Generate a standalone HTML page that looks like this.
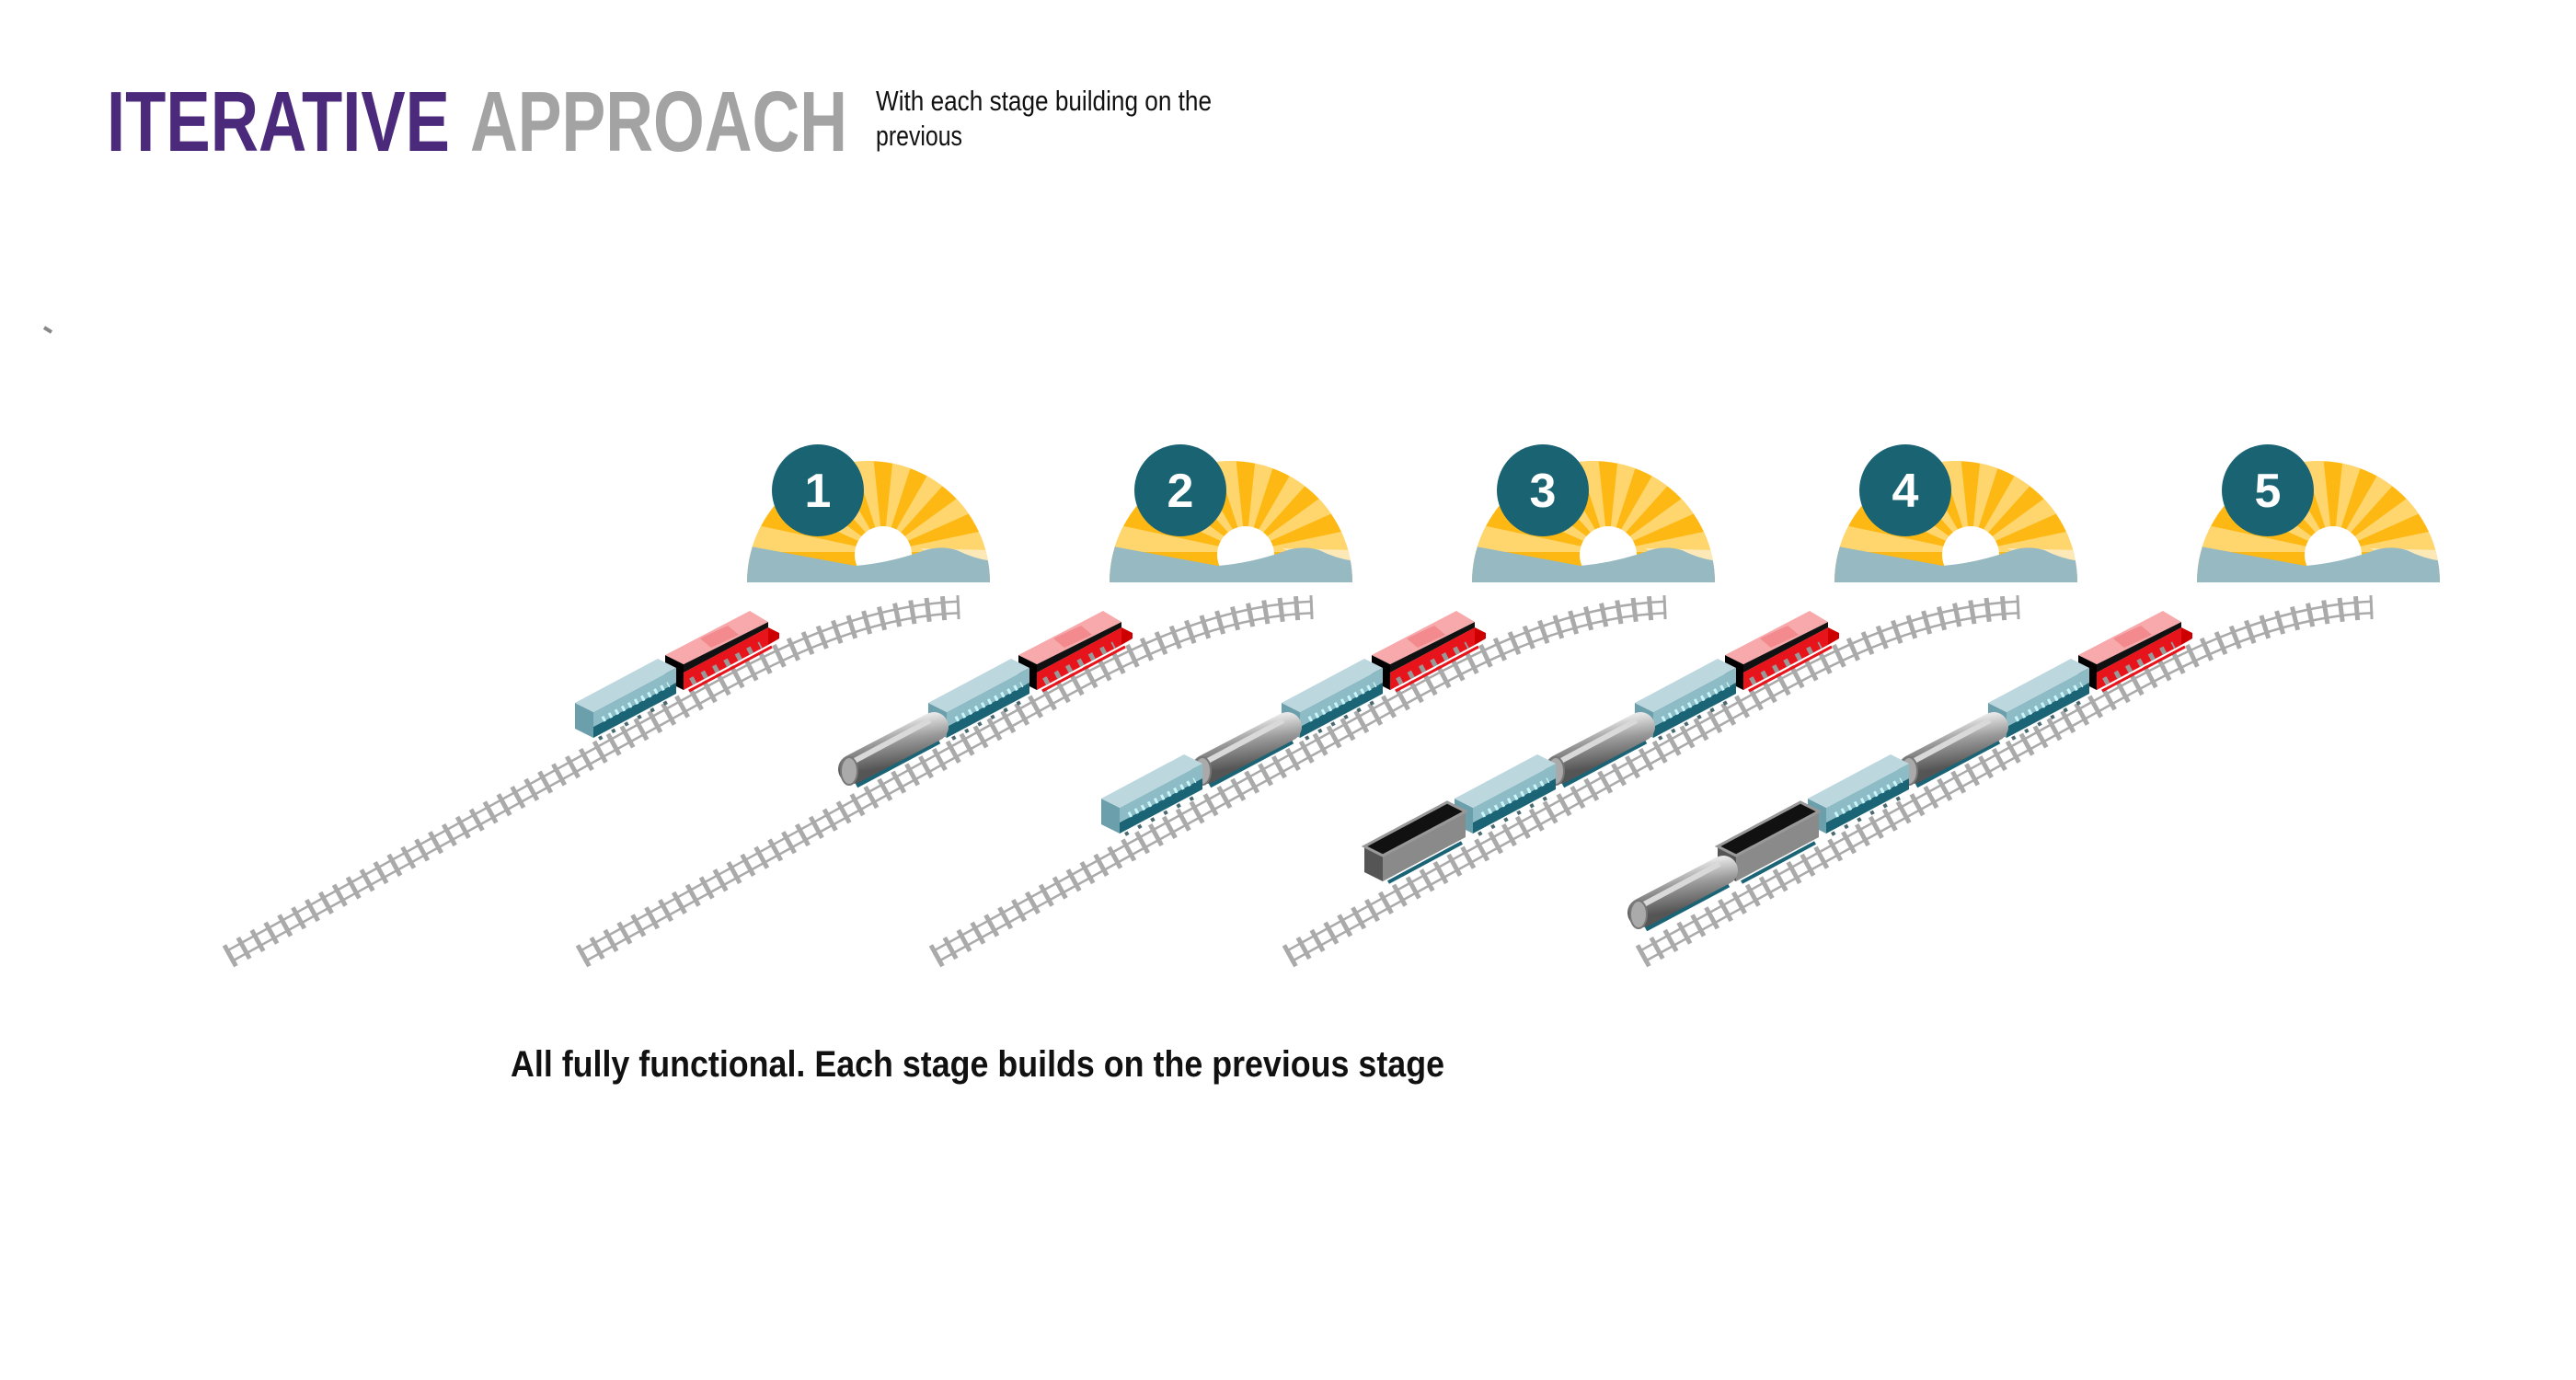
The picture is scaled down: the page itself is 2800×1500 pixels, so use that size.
<!DOCTYPE html>
<html><head><meta charset="utf-8"><style>html,body{margin:0;padding:0;background:#fff}svg{display:block}</style></head>
<body>
<svg width="2800" height="1500" viewBox="0 0 2800 1500" xmlns="http://www.w3.org/2000/svg">
<defs>
<clipPath id="semi"><path d="M812,633 A132,132 0 0 1 1076,633 Z"/></clipPath>
<linearGradient id="tank" x1="0" y1="0" x2="0.3" y2="1">
<stop offset="0" stop-color="#e6e6e6"/><stop offset="0.45" stop-color="#9a9a9a"/><stop offset="1" stop-color="#555"/></linearGradient>
<g id="sun">
<g clip-path="url(#semi)">
<rect x="800" y="490" width="300" height="150" fill="#fdb813"/>
<g fill="#ffd66e" transform="translate(960,600)">
<polygon points="0,0 -250,0 -245,-52"/>
<polygon points="0,0 -228,-102 -202,-147"/>
<polygon points="0,0 -167,-186 -125,-217"/>
<polygon points="0,0 -77,-238 -26,-249"/>
<polygon points="0,0 26,-249 77,-238"/>
<polygon points="0,0 125,-217 167,-186"/>
<polygon points="0,0 202,-147 228,-102"/>
<polygon points="0,0 245,-52 250,0"/>
</g>
<circle cx="960" cy="603" r="31" fill="#fff"/>
<polygon points="1000,596 1076,598 1076,612 1030,612" fill="#fde9b8"/>
<path d="M805,592 L930,615 Q965,612 1000,600 Q1020,592 1040,598 Q1060,608 1080,610 L1080,640 L805,640 Z" fill="#97b9c1"/>
</g>
</g>
<g id="track" fill="none">
<path d="M248,1040 L720,780 C820,725 920,665 1043,660" stroke="#aaa" stroke-width="15"/>
<path d="M248,1040 L720,780 C820,725 920,665 1043,660" stroke="#fff" stroke-width="10"/>
<path d="M248,1040 L720,780 C820,725 920,665 1043,660" stroke="#aaa" stroke-width="26" stroke-dasharray="5 12"/>
</g>
<g id="carriage">
<polygon points="0,0 0,-28 -20,-38 -20,-10" fill="#6b9fab"/>
<polygon points="0,0 90,-48 90,-60 0,-12" fill="#1b6476"/>
<polygon points="0,-12 90,-60 90,-76 0,-28" fill="#8dbcc6"/>
<line x1="10" y1="-20" x2="82" y2="-58" stroke="#c8f6fa" stroke-width="6" stroke-dasharray="3 5"/>
<polygon points="0,-28 90,-76 70,-86 -20,-38" fill="#bcd8de"/>
<line x1="6" y1="1" x2="86" y2="-42" stroke="#4a6a70" stroke-width="4" stroke-dasharray="4 12"/>
</g>
<g id="loco">
<polygon points="0,0 0,-28 -20,-38 -20,-10" fill="#000"/>
<polygon points="0,0 92,-49 92,-68 0,-19" fill="#e8141b"/>
<line x1="8" y1="-9" x2="84" y2="-49" stroke="#999" stroke-width="8" stroke-dasharray="5 9"/>
<polygon points="0,-19 92,-68 92,-74 0,-28" fill="#111"/>
<polygon points="0,-28 92,-74 72,-86 -20,-38" fill="#f7a9ab"/>
<polygon points="30,-46 60,-60 48,-70 18,-56" fill="#f28a8e"/>
<polygon points="92,-49 104,-56 104,-62 92,-68" fill="#c00"/>
<line x1="6" y1="1" x2="96" y2="-47" stroke="#e8141b" stroke-width="3"/>
</g>
<g id="tanker">
<line x1="0" y1="0" x2="90" y2="-48" stroke="#1b6476" stroke-width="5"/>
<line x1="-4" y1="-18" x2="84" y2="-64" stroke="url(#tank)" stroke-width="32" stroke-linecap="round"/>
<line x1="-6" y1="-25" x2="80" y2="-71" stroke="#d9d9d9" stroke-width="6"/>
<ellipse cx="-8" cy="-16" rx="9" ry="15" fill="#aaa" stroke="#777" stroke-width="2"/>
</g>
<g id="coal">
<polygon points="0,0 0,-28 -20,-38 -20,-10" fill="#555"/>
<polygon points="0,0 90,-48 90,-76 0,-28" fill="#8a8a8a"/>
<polygon points="0,-28 90,-76 70,-86 -20,-38" fill="#111" stroke="#999" stroke-width="3"/>
<line x1="6" y1="1" x2="86" y2="-42" stroke="#1b6476" stroke-width="4"/>
</g>
<g id="s1"><use href="#track"/><use href="#loco" transform="translate(743,750)"/><use href="#carriage" transform="translate(645,802)"/></g>
</defs>

<text x="116" y="164" font-family="'Liberation Sans Narrow','Liberation Sans',sans-serif" font-weight="bold" font-size="93" fill="#4b2a7b" textLength="373" lengthAdjust="spacingAndGlyphs">ITERATIVE</text>
<text x="511" y="164" font-family="'Liberation Sans Narrow','Liberation Sans',sans-serif" font-weight="bold" font-size="93" fill="#a3a3a3" textLength="410" lengthAdjust="spacingAndGlyphs">APPROACH</text>
<text x="952" y="120" font-family="'Liberation Sans Narrow','Liberation Sans',sans-serif" font-size="31" fill="#111" textLength="365" lengthAdjust="spacingAndGlyphs">With each stage building on the</text>
<text x="952" y="158" font-family="'Liberation Sans Narrow','Liberation Sans',sans-serif" font-size="31" fill="#111" textLength="94" lengthAdjust="spacingAndGlyphs">previous</text>
<line x1="48" y1="356" x2="56" y2="361" stroke="#888" stroke-width="4"/>

<g>
<use href="#sun"/>
<use href="#sun" transform="translate(394,0)"/>
<use href="#sun" transform="translate(788,0)"/>
<use href="#sun" transform="translate(1182,0)"/>
<use href="#sun" transform="translate(1576,0)"/>
</g>
<g fill="#196373">
<circle cx="889" cy="533" r="50"/><circle cx="1283" cy="533" r="50"/><circle cx="1677" cy="533" r="50"/><circle cx="2071" cy="533" r="50"/><circle cx="2465" cy="533" r="50"/>
</g>
<g font-family="'Liberation Sans',sans-serif" font-weight="bold" font-size="52" fill="#fff" text-anchor="middle">
<text x="889" y="551">1</text><text x="1283" y="551">2</text><text x="1677" y="551">3</text><text x="2071" y="551">4</text><text x="2465" y="551">5</text>
</g>

<use href="#s1"/>
<g transform="translate(384,0)"><use href="#s1"/><use href="#tanker" transform="translate(547,854)"/></g>
<g transform="translate(768,0)"><use href="#s1"/><use href="#tanker" transform="translate(547,854)"/><use href="#carriage" transform="translate(449,906)"/></g>
<g transform="translate(1152,0)"><use href="#s1"/><use href="#tanker" transform="translate(547,854)"/><use href="#carriage" transform="translate(449,906)"/><use href="#coal" transform="translate(351,958)"/></g>
<g transform="translate(1536,0)"><use href="#s1"/><use href="#tanker" transform="translate(547,854)"/><use href="#carriage" transform="translate(449,906)"/><use href="#coal" transform="translate(351,958)"/><use href="#tanker" transform="translate(253,1010)"/></g>

<text x="555" y="1170" font-family="'Liberation Sans Narrow','Liberation Sans',sans-serif" font-weight="bold" font-size="40" fill="#111" textLength="1015" lengthAdjust="spacingAndGlyphs">All fully functional. Each stage builds on the previous stage</text>
</svg>
</body></html>
